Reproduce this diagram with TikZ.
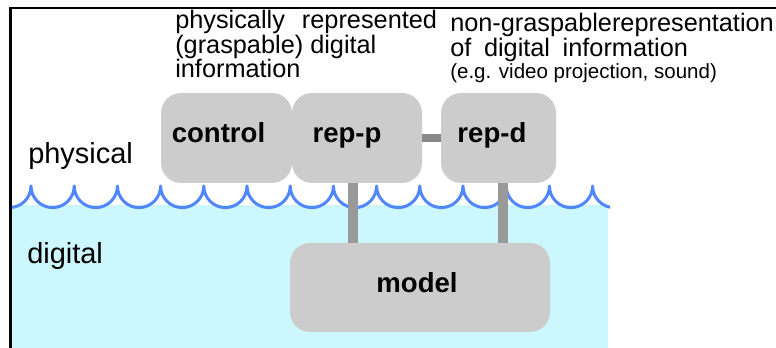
\documentclass[tikz,border=0pt]{standalone}
\usepackage{fontspec}
\setmainfont{Liberation Sans}
\usepackage{tikz}
\definecolor{waterblue}{RGB}{204,247,255}
\definecolor{waveblue}{RGB}{80,135,255}
\definecolor{boxgray}{RGB}{204,204,204}
\definecolor{bargray}{RGB}{153,153,153}
\definecolor{linkgray}{RGB}{136,136,136}

\begin{document}
\begin{tikzpicture}[
  layerbox/.style={rectangle,rounded corners=0.5cm,fill=boxgray,minimum height=2.25cm,text height=0.4cm,text depth=0.15cm,font=\fontsize{19.6}{22}\selectfont\bfseries},
  link/.style={draw=bargray,line width=0.25cm},
  note/.style={align=left,inner sep=0pt,font=\fontsize{18}{15.6}\selectfont},
  side/.style={anchor=base west,inner sep=0pt,font=\fontsize{20.6}{24}\selectfont}]
\useasboundingbox (0,0) rectangle (19.4,-8.7);

% Frame
\draw[line width=0.05cm] (0.2625,-9) -- (0.2625,-0.2) -- (19.6,-0.2);

% Water surface between physical and digital
\fill[waterblue] (0.3,-5.125) rectangle (15.2,-8.8);
\begin{scope}
\clip (0.3,-4) rectangle (15.25,-5.5);
\draw[waveblue,line width=0.075cm,line join=round] (-0.305,-4.65) \foreach \k in {0,...,14} {arc[start angle=180,end angle=360,radius=0.54]};
\end{scope}

% Layer names
\node[side] (phys) at (0.7,-4.08) {physical};
\node[side] (dig) at (0.675,-6.6) {digital};

% Boxes
\node[layerbox,minimum width=3.275cm] (control) at (5.6625,-3.45) {control\hspace*{0.4cm}};
\node[layerbox,minimum width=3.25cm] (repp) at (8.925,-3.45) {rep-p\hspace*{0.5cm}};
\node[layerbox,minimum width=2.875cm] (repd) at (12.4625,-3.45) {rep-d\hspace*{0.33cm}};
\node[layerbox,minimum width=6.5cm,minimum height=2.225cm] (model) at (10.5,-7.1875) {model\hspace*{0.15cm}};

% Connections
\draw[link] ([xshift=-0.1cm]repp.south) -- ([xshift=-0.1cm]repp.south |- model.north);
\draw[link] ([xshift=0.1cm]repd.south) -- ([xshift=0.1cm]repd.south |- model.north);
\draw[draw=linkgray,line width=0.2cm] (repp.east) -- (repd.west);

% Notes on top
\node[note,anchor=base west] (graspnote) at (4.375,-1.95) {physically\hspace{0.25cm} represented\\(graspable) digital\\information};
\node[note,anchor=base west] (nongraspnote) at (11.25,-1.97) {non-graspablerepresentation\\of\hspace{0.14cm} digital\hspace{0.14cm} information\\{\fontsize{14.6}{15.6}\selectfont (e.g. video projection, sound)}};
\end{tikzpicture}
\end{document}
